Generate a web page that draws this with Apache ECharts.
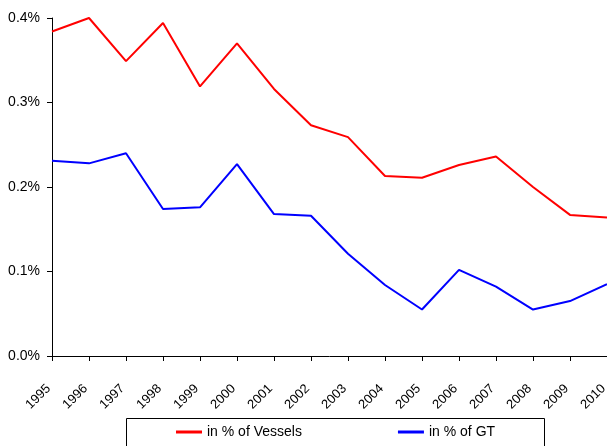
<!DOCTYPE html>
<html>
<head>
<meta charset="utf-8">
<script src="https://cdn.jsdelivr.net/npm/echarts@6/dist/echarts.min.js"></script>
<style>html,body{margin:0;padding:0;background:#fff;overflow:hidden;}#c{width:607px;height:446px;}</style>
</head>
<body>
<div id="c"></div>
<script>
var years = ['1995','1996','1997','1998','1999','2000','2001','2002','2003','2004','2005','2006','2007','2008','2009','2010'];
var vessels = [0.384,0.400,0.349,0.394,0.319,0.370,0.316,0.273,0.259,0.213,0.211,0.226,0.236,0.200,0.167,0.164];
var gt = [0.231,0.228,0.240,0.174,0.176,0.227,0.168,0.166,0.121,0.084,0.055,0.102,0.082,0.055,0.065,0.085];
var yTicks = [0, 0.1, 0.2, 0.3, 0.4];

var chart = echarts.init(document.getElementById('c'));
chart.setOption({
  animation: false,
  backgroundColor: '#fff',
  textStyle: { fontFamily: 'Liberation Sans, Arial, sans-serif' },
  grid: { left: 52, right: 0, top: 18, bottom: 90, containLabel: false, outerBoundsMode: 'none' },
  xAxis: [{
    type: 'category',
    data: years,
    boundaryGap: false,
    axisLine: { lineStyle: { color: '#000', width: 1 } },
    axisTick: { show: true, length: 5, lineStyle: { color: '#000' }, alignWithLabel: true, interval: 0 },
    axisLabel: { show: false },
    splitLine: { show: false }
  }, {
    type: 'category',
    data: years,
    position: 'bottom',
    offset: 19,
    boundaryGap: false,
    axisLine: { show: false },
    axisTick: { show: false },
    axisLabel: { rotate: 45, fontSize: 13, color: '#000', margin: 8, interval: 0, fontFamily: 'Liberation Sans',
      padding: [0, 5, 0, 0], hideOverlap: false },
    splitLine: { show: false }
  }],
  yAxis: {
    type: 'value',
    min: yTicks[0],
    max: yTicks[yTicks.length - 1],
    interval: 0.1,
    axisLine: { show: true, lineStyle: { color: '#000', width: 1 } },
    axisTick: { show: true, length: 5, lineStyle: { color: '#000' } },
    axisLabel: { fontSize: 14, color: '#000', margin: 12, fontFamily: 'Liberation Sans',
      formatter: function (v) { return v.toFixed(1) + '%'; } },
    splitLine: { show: false }
  },
  legend: {
    left: 176, top: 425,
    padding: 0,
    itemGap: 96,
    itemWidth: 26, itemHeight: 3,
    icon: 'rect',
    textStyle: { fontSize: 14, color: '#000', fontFamily: 'Liberation Sans' },
    data: ['in % of Vessels', 'in % of GT']
  },
  graphic: [{
    type: 'rect',
    shape: { x: 126.5, y: 418.5, width: 418, height: 40 },
    style: { fill: 'none', stroke: '#000', lineWidth: 1 },
    z: -1
  }],
  series: [
    { name: 'in % of Vessels', type: 'line', data: vessels, symbol: 'none', xAxisIndex: 0,
      lineStyle: { color: '#ff0000', width: 2 }, itemStyle: { color: '#ff0000' } },
    { name: 'in % of GT', type: 'line', data: gt, symbol: 'none', xAxisIndex: 0,
      lineStyle: { color: '#0000ff', width: 2 }, itemStyle: { color: '#0000ff' } }
  ]
});
</script>
</body>
</html>
